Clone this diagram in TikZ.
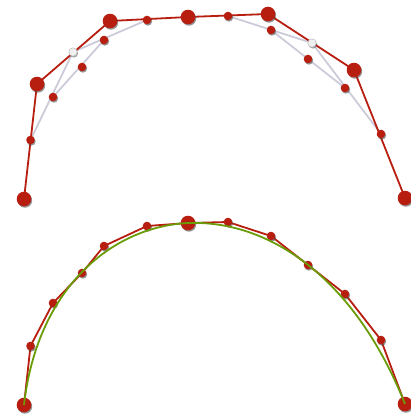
\documentclass[tikz,border=0pt]{standalone}
\usetikzlibrary{shadows}
\definecolor{ptred}{HTML}{B71E10}
\definecolor{hullgray}{HTML}{CBCBDA}
\definecolor{curvegreen}{HTML}{6A9C08}
\tikzset{
  polyline/.style={ptred,line width=1.8pt,line join=round},
  hull/.style={hullgray,line width=1.8pt},
  curve/.style={curvegreen,line width=1.8pt},
  knot/.style={fill=ptred,drop shadow={shadow xshift=0.9pt,shadow yshift=-1.4pt,opacity=.6,fill=black!70}},
  midknot/.style={fill=white!88!gray,draw=gray!55,line width=0.5pt,drop shadow={shadow xshift=0.9pt,shadow yshift=-1.4pt,opacity=.5,fill=black!70}},
}
\begin{document}
\begin{tikzpicture}[x=1pt,y=-1pt]
\useasboundingbox (0,0) rectangle (411,415);
% control points of the two cubic pieces
\coordinate (P0) at (24,199);
\coordinate (P1) at (37,84);
\coordinate (P2) at (110,21);
\coordinate (P3) at (188,17);
\coordinate (P4) at (268,14);
\coordinate (P5) at (354,70);
\coordinate (P6) at (405,198);
% de Casteljau points
\coordinate (M01) at (30.5,140);
\coordinate (M12) at (73,52);
\coordinate (M23) at (147,20);
\coordinate (M012) at (53,97);
\coordinate (M0123) at (82,67);
\coordinate (M123) at (104,40);
\coordinate (M34) at (228,16);
\coordinate (M45) at (312,43);
\coordinate (M56) at (381,134);
\coordinate (M345) at (271,30);
\coordinate (M3456) at (308,59);
\coordinate (M456) at (345,88);
% lower copy
\foreach \p in {P0,P1,P2,P3,P4,P5,P6,M01,M012,M0123,M123,M23,M34,M345,M3456,M456,M56}
  \coordinate (B\p) at ([yshift=-206pt]\p);
% upper: construction
\draw[hull] (M01) -- (M12) -- (M23);
\draw[hull] (M012) -- (M123);
\draw[hull] (M34) -- (M45) -- (M56);
\draw[hull] (M345) -- (M456);
\draw[polyline] (P0) -- (P1) -- (P2) -- (P3) -- (P4) -- (P5) -- (P6);
\foreach \p in {M01,M23,M34,M56,M012,M0123,M123,M345,M3456,M456}
  \path[knot] (\p) circle (4.3pt);
\path[midknot] (M12) circle (4.2pt);
\path[midknot] (M45) circle (4.2pt);
\foreach \p in {P0,P1,P2,P3,P4,P5,P6}
  \path[knot] (\p) circle (7.3pt);
% lower: subdivided polygon and curve
\draw[polyline] (BP0) -- (BM01) -- (BM012) -- (BM0123) -- (BM123) -- (BM23) -- (BP3)
  -- (BM34) -- (BM345) -- (BM3456) -- (BM456) -- (BM56) -- (BP6);
\foreach \p in {M01,M012,M0123,M123,M23,M34,M345,M3456,M456,M56}
  \path[knot] (B\p) circle (4.3pt);
\foreach \p in {P0,P3,P6}
  \path[knot] (B\p) circle (7.3pt);
\draw[curve] (BP0) .. controls (BP1) and (BP2) .. (BP3)
  .. controls (BP4) and (BP5) .. (BP6);
\end{tikzpicture}
\end{document}
